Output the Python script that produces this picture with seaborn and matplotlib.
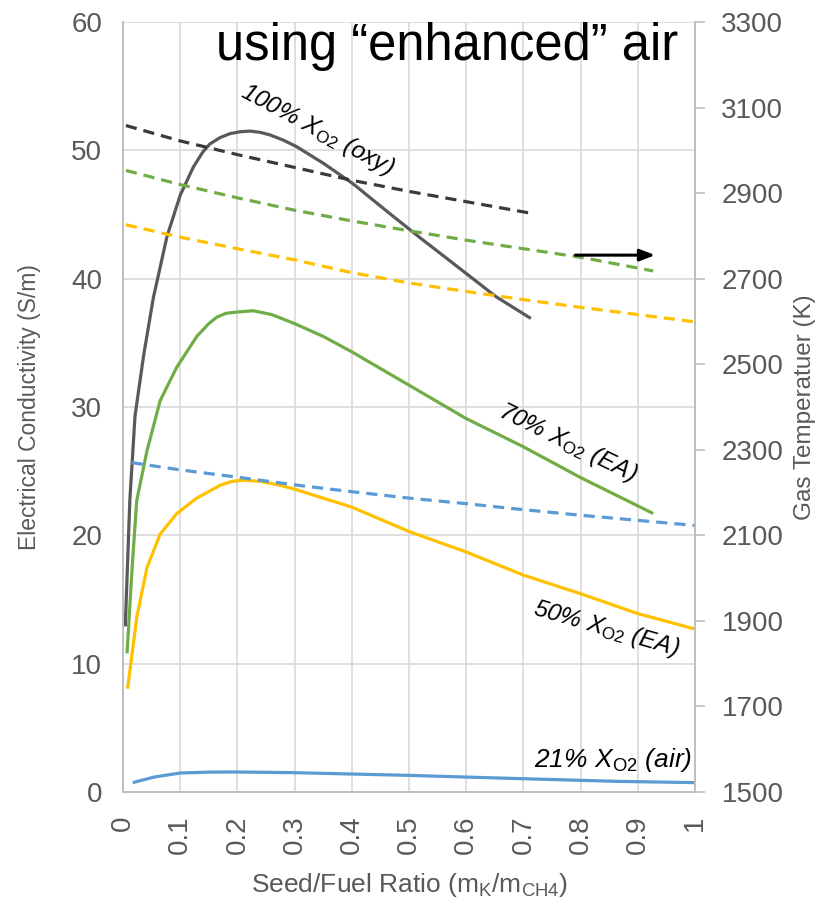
import matplotlib
matplotlib.use("Agg")
import matplotlib.pyplot as plt
import seaborn as sns
import pandas as pd

# ---------------- data ----------------
# conductivity (S/m), left axis
x_oxy = [0.004, 0.012, 0.021, 0.036, 0.053, 0.077, 0.10, 0.123, 0.14, 0.152, 0.17, 0.187,
         0.205, 0.222, 0.24, 0.257, 0.28, 0.303, 0.35, 0.402, 0.46, 0.519, 0.577, 0.652, 0.713]
s_oxy = [12.9, 22.8, 29.3, 34.0, 38.5, 43.3, 46.5, 48.7, 49.9, 50.5, 51.0, 51.3,
         51.45, 51.5, 51.4, 51.2, 50.8, 50.3, 49.0, 47.4, 45.3, 43.2, 41.2, 38.6, 36.9]

x_ea70 = [0.007, 0.016, 0.024, 0.042, 0.065, 0.094, 0.129, 0.15, 0.164, 0.18, 0.199, 0.228,
          0.26, 0.3, 0.35, 0.4, 0.5, 0.6, 0.7, 0.8, 0.927]
s_ea70 = [10.8, 17.5, 22.7, 26.6, 30.5, 33.1, 35.5, 36.5, 37.0, 37.3, 37.4, 37.5,
          37.2, 36.5, 35.5, 34.3, 31.7, 29.1, 26.9, 24.5, 21.7]

x_ea50 = [0.008, 0.024, 0.042, 0.065, 0.094, 0.129, 0.17, 0.19, 0.21, 0.24, 0.27, 0.3,
          0.4, 0.5, 0.6, 0.7, 0.8, 0.9, 1.0]
s_ea50 = [8.05, 13.6, 17.5, 20.1, 21.7, 22.9, 23.9, 24.2, 24.3, 24.2, 23.95, 23.6,
          22.2, 20.3, 18.7, 16.9, 15.45, 13.9, 12.7]

x_air = [0.017, 0.055, 0.10, 0.15, 0.195, 0.295, 0.496, 0.696, 0.863, 1.0]
s_air = [0.73, 1.17, 1.48, 1.55, 1.56, 1.51, 1.30, 1.04, 0.83, 0.73]

# gas temperature (K), right axis
xt_oxy = [0.005, 0.1, 0.2, 0.3, 0.4, 0.5, 0.6, 0.713]
t_oxy = [3058, 3022, 2990, 2960, 2930, 2904, 2880, 2853]

xt_ea70 = [0.005, 0.1, 0.2, 0.3, 0.4, 0.5, 0.6, 0.7, 0.8, 0.927]
t_ea70 = [2953, 2920, 2889, 2860, 2835, 2812, 2790, 2770, 2750, 2718]

xt_ea50 = [0.005, 0.1, 0.2, 0.3, 0.4, 0.5, 0.6, 0.7, 0.8, 0.9, 1.0]
t_ea50 = [2826, 2797, 2770, 2744, 2714, 2690, 2670, 2651, 2633, 2616, 2599]

xt_air = [0.015, 0.1, 0.2, 0.3, 0.4, 0.5, 0.6, 0.7, 0.8, 0.9, 1.0]
t_air = [2270, 2253, 2236, 2218, 2202, 2187, 2174, 2160, 2147, 2135, 2123]

x_ticks = [0, 0.1, 0.2, 0.3, 0.4, 0.5, 0.6, 0.7, 0.8, 0.9, 1]
x_ticklabels = ["0", "0.1", "0.2", "0.3", "0.4", "0.5", "0.6", "0.7", "0.8", "0.9", "1"]
y_ticks = [0, 10, 20, 30, 40, 50, 60]
t_ticks = [1500, 1700, 1900, 2100, 2300, 2500, 2700, 2900, 3100, 3300]

# ---------------- style ----------------
sns.set_style("white")
plt.rcParams["font.family"] = ["Liberation Sans", "DejaVu Sans"]
plt.rcParams["mathtext.fontset"] = "custom"
plt.rcParams["mathtext.rm"] = "Liberation Sans"
plt.rcParams["mathtext.it"] = "Liberation Sans:italic"
plt.rcParams["lines.solid_joinstyle"] = "round"
plt.rcParams["lines.solid_capstyle"] = "butt"

C_OXY_S = "#595959"
C_OXY_D = "#3a3a3a"
C_GREEN = "#70AD47"
C_YELLOW = "#FFC000"
C_BLUE = "#5B9BD5"
GRID = "#d9d9d9"
TXT = "#595959"

fig = plt.figure(figsize=(8.34, 9.07), dpi=100)
ax = fig.add_axes([123 / 834, 1 - 792 / 907, (695 - 123) / 834, (792 - 22) / 907])
ax2 = ax.twinx()

LW = 2.3
DASH = (3.5, 2.2)

solid = [(x_oxy, s_oxy, C_OXY_S), (x_ea70, s_ea70, C_GREEN),
         (x_ea50, s_ea50, C_YELLOW), (x_air, s_air, C_BLUE)]
for xs, ys, c in solid:
    df = pd.DataFrame({"x": xs, "y": ys})
    sns.lineplot(data=df, x="x", y="y", ax=ax, color=c, lw=LW, legend=False)

dashed = [(xt_oxy, t_oxy, C_OXY_D), (xt_ea70, t_ea70, C_GREEN),
          (xt_ea50, t_ea50, C_YELLOW), (xt_air, t_air, C_BLUE)]
for xs, ys, c in dashed:
    df = pd.DataFrame({"x": xs, "y": ys})
    sns.lineplot(data=df, x="x", y="y", ax=ax2, color=c, lw=LW, legend=False,
                 dashes=False)
    ax2.lines[-1].set_dashes(DASH)

ax.set_xlim(0, 1)
ax.set_ylim(0, 60)
ax2.set_ylim(1500, 3300)
ax.set_xticks(x_ticks)
ax.set_xticklabels(x_ticklabels, rotation=90, fontsize=20, color=TXT)
ax.set_yticks(y_ticks)
ax.set_yticklabels([str(v) for v in y_ticks], fontsize=20, color=TXT)
ax2.set_yticks(t_ticks)
ax2.set_yticklabels([str(v) for v in t_ticks], fontsize=20, color=TXT)

ax.grid(True, color=GRID, lw=1.2)
ax.set_axisbelow(True)
ax2.grid(False)

for a in (ax, ax2):
    a.spines["top"].set_visible(False)
    for s in ("left", "bottom", "right"):
        a.spines[s].set_color("#bfbfbf")
        a.spines[s].set_linewidth(1.2)

ax.tick_params(axis="x", length=0, pad=17)
ax.tick_params(axis="y", length=0, pad=15)
ax2.tick_params(axis="y", length=7, width=1.2, color="#bfbfbf", pad=12)

ax.set_xlabel(r"Seed/Fuel Ratio (m$_{\mathrm{K}}$/m$_{\mathrm{CH4}}$)", fontsize=19,
              color=TXT)
ax.xaxis.set_label_coords(0.5, (792 - 871) / 770)
ax.set_ylabel("Electrical Conductivity (S/m)", fontsize=16.5, color=TXT)
ax.yaxis.set_label_coords((41 - 123) / 572, 0.5)
ax2.set_ylabel("Gas Temperatuer (K)", fontsize=17.5, color=TXT)
ax2.yaxis.set_label_coords((794 - 123) / 572, 0.5)

# curve labels
lab_kw = dict(fontsize=17.5, style="italic", color="black", ha="center", va="center")
ax.text(0.34, 51.6, r"100% X$_{\mathrm{O2}}$ (oxy)", rotation=-28, **lab_kw)
ax.text(0.778, 27.2, r"70% X$_{\mathrm{O2}}$ (EA)", rotation=-26, **lab_kw)
ax.text(0.845, 12.7, r"50% X$_{\mathrm{O2}}$ (EA)", rotation=-16, **lab_kw)
ax.text(0.857, 2.5, r"21% X$_{\mathrm{O2}}$ (air)", rotation=0,
        **{**lab_kw, "fontsize": 19})

# arrow pointing to the temperature axis
ax2.annotate("", xy=(0.935, 2755), xytext=(0.786, 2755),
             arrowprops=dict(arrowstyle="-|>,head_length=0.9,head_width=0.35",
                             color="black", lw=2.2))

# title fragment
fig.text(0.536, 1 - 60 / 907, "using \u201cenhanced\u201d air", fontsize=36.5,
         color="black", ha="center", va="baseline")

fig.savefig("out.png", dpi=100)
